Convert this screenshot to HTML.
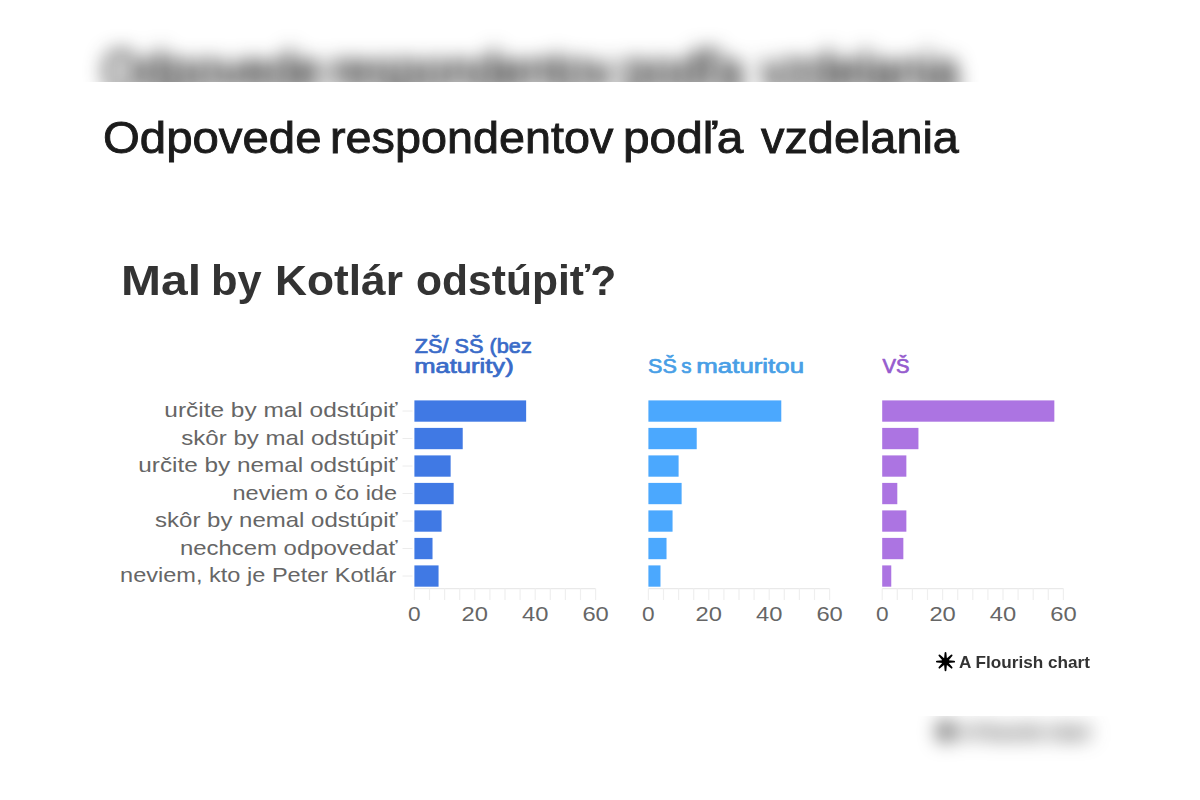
<!DOCTYPE html>
<html lang="sk">
<head>
<meta charset="utf-8">
<title>Odpovede respondentov podľa vzdelania</title>
<style>
  html, body { margin:0; padding:0; }
  body { width:1200px; height:800px; overflow:hidden; background:#fff; position:relative;
         font-family:"Liberation Sans", sans-serif; }
  .stage { position:absolute; left:0; top:0; width:1200px; height:800px; overflow:hidden; background:#fff; }
  /* blurred, vertically stretched copy of the card used as backdrop */
  .backdrop { position:absolute; left:0; top:0; width:1200px; height:800px; filter:blur(9.5px); }
  .stretch { position:absolute; left:0; top:0; width:1200px; height:634px;
             transform-origin:0 0; transform:scaleY(1.2618); }
  .backdrop .page-title { -webkit-text-stroke:1.2px #1b1b1b; }
  .card { position:absolute; left:0; top:82px; width:1200px; height:634px; background:#fff; overflow:hidden; }
  .inner { position:absolute; left:0; top:-82px; width:1200px; height:800px; }
  .page-title { position:absolute; left:0; top:112.1px; width:1200px; height:52px; margin:0; white-space:nowrap;
                font-size:43.6px; line-height:52px; font-weight:400; color:#1b1b1b;
                -webkit-text-stroke:0.85px #1b1b1b; }
  .page-title span, .chart-title span { position:absolute; top:0; transform-origin:0 0; }
  .chart-title { position:absolute; left:0; top:256.9px; width:1200px; height:48px; margin:0; white-space:nowrap;
                 font-size:41.8px; line-height:48px; font-weight:700; color:#333; }
  .chart { position:absolute; left:0; top:0; font-family:"Liberation Sans", sans-serif; }
  .credit { position:absolute; left:935px; top:651px; height:22px; white-space:nowrap; color:#333;
            font-size:16.5px; line-height:22px; font-weight:700; }
  .credit .fl-icon { position:absolute; left:0; top:1px; }
  .credit span { position:absolute; left:24px; top:0; transform-origin:0 0; transform:scaleX(1.04); }
</style>
</head>
<body>
<div class="stage">
  <div class="backdrop" aria-hidden="true">
    <div class="stretch">
      <div class="inner">
        <div class="page-title"><span style="left:102.74px;transform:scaleX(1.0860)">Odpovede</span> <span style="left:330.35px;transform:scaleX(1.0723)">respondentov</span> <span style="left:623.37px;transform:scaleX(1.0979)">podľa</span> <span style="left:761.21px;transform:scaleX(1.0743)">vzdelania</span></div>
        <div class="credit"><svg class="fl-icon" width="20" height="20" viewBox="-10.5 -9.6 20 20"><g fill="#000"><path transform="rotate(0)" d="M-1.45,-2.6 L-0.9,-8.65 A0.9,0.9 0 0 1 0.9,-8.65 L1.45,-2.6 Z"/><path transform="rotate(45)" d="M-1.45,-2.6 L-0.9,-8.65 A0.9,0.9 0 0 1 0.9,-8.65 L1.45,-2.6 Z"/><path transform="rotate(90)" d="M-1.45,-2.6 L-0.9,-8.65 A0.9,0.9 0 0 1 0.9,-8.65 L1.45,-2.6 Z"/><path transform="rotate(135)" d="M-1.45,-2.6 L-0.9,-8.65 A0.9,0.9 0 0 1 0.9,-8.65 L1.45,-2.6 Z"/><path transform="rotate(180)" d="M-1.45,-2.6 L-0.9,-8.65 A0.9,0.9 0 0 1 0.9,-8.65 L1.45,-2.6 Z"/><path transform="rotate(225)" d="M-1.45,-2.6 L-0.9,-8.65 A0.9,0.9 0 0 1 0.9,-8.65 L1.45,-2.6 Z"/><path transform="rotate(270)" d="M-1.45,-2.6 L-0.9,-8.65 A0.9,0.9 0 0 1 0.9,-8.65 L1.45,-2.6 Z"/><path transform="rotate(315)" d="M-1.45,-2.6 L-0.9,-8.65 A0.9,0.9 0 0 1 0.9,-8.65 L1.45,-2.6 Z"/><circle r="3.7"/></g></svg><span>A Flourish chart</span></div>
      </div>
    </div>
  </div>
  <div class="card">
    <div class="inner">
      <h1 class="page-title"><span style="left:102.74px;transform:scaleX(1.0860)">Odpovede</span> <span style="left:330.35px;transform:scaleX(1.0723)">respondentov</span> <span style="left:623.37px;transform:scaleX(1.0979)">podľa</span> <span style="left:761.21px;transform:scaleX(1.0743)">vzdelania</span></h1>
      <h2 class="chart-title"><span style="left:120.52px;transform:scaleX(1.1485)">Mal</span> <span style="left:210.87px;transform:scaleX(1.0403)">by</span> <span style="left:275.07px;transform:scaleX(1.0595)">Kotlár</span> <span style="left:415.81px;transform:scaleX(1.0190)">odstúpiť?</span></h2>
<svg class="chart" width="1200" height="800" viewBox="0 0 1200 800">
<g class="ylabels" font-size="21" fill="#666">
<text x="164.30" y="417.00" textLength="233.20" lengthAdjust="spacingAndGlyphs">určite by mal odstúpiť</text>
<text x="181.30" y="444.50" textLength="216.20" lengthAdjust="spacingAndGlyphs">skôr by mal odstúpiť</text>
<text x="138.30" y="472.00" textLength="259.20" lengthAdjust="spacingAndGlyphs">určite by nemal odstúpiť</text>
<text x="232.55" y="499.50" textLength="164.45" lengthAdjust="spacingAndGlyphs">neviem o čo ide</text>
<text x="155.05" y="527.00" textLength="242.45" lengthAdjust="spacingAndGlyphs">skôr by nemal odstúpiť</text>
<text x="180.05" y="554.50" textLength="217.45" lengthAdjust="spacingAndGlyphs">nechcem odpovedať</text>
<text x="120.05" y="582.00" textLength="276.20" lengthAdjust="spacingAndGlyphs">neviem, kto je Peter Kotlár</text>
</g>
<g class="yticks" stroke="#ececec" stroke-width="1">
<line x1="402.5" x2="412.5" y1="411.00" y2="411.00"/>
<line x1="402.5" x2="412.5" y1="438.50" y2="438.50"/>
<line x1="402.5" x2="412.5" y1="466.00" y2="466.00"/>
<line x1="402.5" x2="412.5" y1="493.50" y2="493.50"/>
<line x1="402.5" x2="412.5" y1="521.00" y2="521.00"/>
<line x1="402.5" x2="412.5" y1="548.50" y2="548.50"/>
<line x1="402.5" x2="412.5" y1="576.00" y2="576.00"/>
</g>
<g class="facet">
<line x1="414.4" x2="595.6" y1="588.6" y2="588.6" stroke="#e9e9e9" stroke-width="1.2"/>
<line x1="414.40" x2="414.40" y1="588.6" y2="600" stroke="#efefef" stroke-width="1.2"/>
<line x1="429.50" x2="429.50" y1="588.6" y2="600" stroke="#efefef" stroke-width="1.2"/>
<line x1="444.60" x2="444.60" y1="588.6" y2="600" stroke="#efefef" stroke-width="1.2"/>
<line x1="459.70" x2="459.70" y1="588.6" y2="600" stroke="#efefef" stroke-width="1.2"/>
<line x1="474.80" x2="474.80" y1="588.6" y2="600" stroke="#efefef" stroke-width="1.2"/>
<line x1="489.90" x2="489.90" y1="588.6" y2="600" stroke="#efefef" stroke-width="1.2"/>
<line x1="505.00" x2="505.00" y1="588.6" y2="600" stroke="#efefef" stroke-width="1.2"/>
<line x1="520.10" x2="520.10" y1="588.6" y2="600" stroke="#efefef" stroke-width="1.2"/>
<line x1="535.20" x2="535.20" y1="588.6" y2="600" stroke="#efefef" stroke-width="1.2"/>
<line x1="550.30" x2="550.30" y1="588.6" y2="600" stroke="#efefef" stroke-width="1.2"/>
<line x1="565.40" x2="565.40" y1="588.6" y2="600" stroke="#efefef" stroke-width="1.2"/>
<line x1="580.50" x2="580.50" y1="588.6" y2="600" stroke="#efefef" stroke-width="1.2"/>
<line x1="595.60" x2="595.60" y1="588.6" y2="600" stroke="#efefef" stroke-width="1.2"/>
<rect x="414.4" y="400.40" width="111.74" height="21.3" fill="#4079e4"/>
<rect x="414.4" y="427.90" width="48.32" height="21.3" fill="#4079e4"/>
<rect x="414.4" y="455.40" width="36.24" height="21.3" fill="#4079e4"/>
<rect x="414.4" y="482.90" width="39.26" height="21.3" fill="#4079e4"/>
<rect x="414.4" y="510.40" width="27.18" height="21.3" fill="#4079e4"/>
<rect x="414.4" y="537.90" width="18.12" height="21.3" fill="#4079e4"/>
<rect x="414.4" y="565.40" width="24.16" height="21.3" fill="#4079e4"/>
<text class="xt" x="408.10" y="621" font-size="21" fill="#666" textLength="12.6" lengthAdjust="spacingAndGlyphs">0</text>
<text class="xt" x="461.60" y="621" font-size="21" fill="#666" textLength="26.4" lengthAdjust="spacingAndGlyphs">20</text>
<text class="xt" x="522.00" y="621" font-size="21" fill="#666" textLength="26.4" lengthAdjust="spacingAndGlyphs">40</text>
<text class="xt" x="582.40" y="621" font-size="21" fill="#666" textLength="26.4" lengthAdjust="spacingAndGlyphs">60</text>
</g>
<g class="facet">
<line x1="648.4" x2="829.6" y1="588.6" y2="588.6" stroke="#e9e9e9" stroke-width="1.2"/>
<line x1="648.40" x2="648.40" y1="588.6" y2="600" stroke="#efefef" stroke-width="1.2"/>
<line x1="663.50" x2="663.50" y1="588.6" y2="600" stroke="#efefef" stroke-width="1.2"/>
<line x1="678.60" x2="678.60" y1="588.6" y2="600" stroke="#efefef" stroke-width="1.2"/>
<line x1="693.70" x2="693.70" y1="588.6" y2="600" stroke="#efefef" stroke-width="1.2"/>
<line x1="708.80" x2="708.80" y1="588.6" y2="600" stroke="#efefef" stroke-width="1.2"/>
<line x1="723.90" x2="723.90" y1="588.6" y2="600" stroke="#efefef" stroke-width="1.2"/>
<line x1="739.00" x2="739.00" y1="588.6" y2="600" stroke="#efefef" stroke-width="1.2"/>
<line x1="754.10" x2="754.10" y1="588.6" y2="600" stroke="#efefef" stroke-width="1.2"/>
<line x1="769.20" x2="769.20" y1="588.6" y2="600" stroke="#efefef" stroke-width="1.2"/>
<line x1="784.30" x2="784.30" y1="588.6" y2="600" stroke="#efefef" stroke-width="1.2"/>
<line x1="799.40" x2="799.40" y1="588.6" y2="600" stroke="#efefef" stroke-width="1.2"/>
<line x1="814.50" x2="814.50" y1="588.6" y2="600" stroke="#efefef" stroke-width="1.2"/>
<line x1="829.60" x2="829.60" y1="588.6" y2="600" stroke="#efefef" stroke-width="1.2"/>
<rect x="648.4" y="400.40" width="132.88" height="21.3" fill="#4ba8fe"/>
<rect x="648.4" y="427.90" width="48.32" height="21.3" fill="#4ba8fe"/>
<rect x="648.4" y="455.40" width="30.20" height="21.3" fill="#4ba8fe"/>
<rect x="648.4" y="482.90" width="33.22" height="21.3" fill="#4ba8fe"/>
<rect x="648.4" y="510.40" width="24.16" height="21.3" fill="#4ba8fe"/>
<rect x="648.4" y="537.90" width="18.12" height="21.3" fill="#4ba8fe"/>
<rect x="648.4" y="565.40" width="12.08" height="21.3" fill="#4ba8fe"/>
<text class="xt" x="642.10" y="621" font-size="21" fill="#666" textLength="12.6" lengthAdjust="spacingAndGlyphs">0</text>
<text class="xt" x="695.60" y="621" font-size="21" fill="#666" textLength="26.4" lengthAdjust="spacingAndGlyphs">20</text>
<text class="xt" x="756.00" y="621" font-size="21" fill="#666" textLength="26.4" lengthAdjust="spacingAndGlyphs">40</text>
<text class="xt" x="816.40" y="621" font-size="21" fill="#666" textLength="26.4" lengthAdjust="spacingAndGlyphs">60</text>
</g>
<g class="facet">
<line x1="882.2" x2="1063.4" y1="588.6" y2="588.6" stroke="#e9e9e9" stroke-width="1.2"/>
<line x1="882.20" x2="882.20" y1="588.6" y2="600" stroke="#efefef" stroke-width="1.2"/>
<line x1="897.30" x2="897.30" y1="588.6" y2="600" stroke="#efefef" stroke-width="1.2"/>
<line x1="912.40" x2="912.40" y1="588.6" y2="600" stroke="#efefef" stroke-width="1.2"/>
<line x1="927.50" x2="927.50" y1="588.6" y2="600" stroke="#efefef" stroke-width="1.2"/>
<line x1="942.60" x2="942.60" y1="588.6" y2="600" stroke="#efefef" stroke-width="1.2"/>
<line x1="957.70" x2="957.70" y1="588.6" y2="600" stroke="#efefef" stroke-width="1.2"/>
<line x1="972.80" x2="972.80" y1="588.6" y2="600" stroke="#efefef" stroke-width="1.2"/>
<line x1="987.90" x2="987.90" y1="588.6" y2="600" stroke="#efefef" stroke-width="1.2"/>
<line x1="1003.00" x2="1003.00" y1="588.6" y2="600" stroke="#efefef" stroke-width="1.2"/>
<line x1="1018.10" x2="1018.10" y1="588.6" y2="600" stroke="#efefef" stroke-width="1.2"/>
<line x1="1033.20" x2="1033.20" y1="588.6" y2="600" stroke="#efefef" stroke-width="1.2"/>
<line x1="1048.30" x2="1048.30" y1="588.6" y2="600" stroke="#efefef" stroke-width="1.2"/>
<line x1="1063.40" x2="1063.40" y1="588.6" y2="600" stroke="#efefef" stroke-width="1.2"/>
<rect x="882.2" y="400.40" width="172.14" height="21.3" fill="#ac74e2"/>
<rect x="882.2" y="427.90" width="36.24" height="21.3" fill="#ac74e2"/>
<rect x="882.2" y="455.40" width="24.16" height="21.3" fill="#ac74e2"/>
<rect x="882.2" y="482.90" width="15.10" height="21.3" fill="#ac74e2"/>
<rect x="882.2" y="510.40" width="24.16" height="21.3" fill="#ac74e2"/>
<rect x="882.2" y="537.90" width="21.14" height="21.3" fill="#ac74e2"/>
<rect x="882.2" y="565.40" width="9.06" height="21.3" fill="#ac74e2"/>
<text class="xt" x="875.90" y="621" font-size="21" fill="#666" textLength="12.6" lengthAdjust="spacingAndGlyphs">0</text>
<text class="xt" x="929.40" y="621" font-size="21" fill="#666" textLength="26.4" lengthAdjust="spacingAndGlyphs">20</text>
<text class="xt" x="989.80" y="621" font-size="21" fill="#666" textLength="26.4" lengthAdjust="spacingAndGlyphs">40</text>
<text class="xt" x="1050.20" y="621" font-size="21" fill="#666" textLength="26.4" lengthAdjust="spacingAndGlyphs">60</text>
</g>
<g class="headers" font-size="19.5" font-weight="400" stroke-width="0.7" stroke-linejoin="round">
<text x="414.8" y="352.9" fill="#3a6bc8" stroke="#3a6bc8" textLength="117" lengthAdjust="spacingAndGlyphs">ZŠ/ SŠ (bez</text>
<text x="414.2" y="372.8" fill="#3a6bc8" stroke="#3a6bc8" textLength="99.5" lengthAdjust="spacingAndGlyphs">maturity)</text>
<text y="372.8" fill="#489fe6" stroke="#489fe6"><tspan x="648.03" textLength="28.77" lengthAdjust="spacingAndGlyphs">SŠ</tspan> <tspan x="681.28" textLength="10.24" lengthAdjust="spacingAndGlyphs">s</tspan> <tspan x="696.34" textLength="107.71" lengthAdjust="spacingAndGlyphs">maturitou</tspan></text>
<text x="882.5" y="372.8" fill="#965cce" stroke="#965cce" textLength="27" lengthAdjust="spacingAndGlyphs">VŠ</text>
</g>
</svg>
      <div class="credit"><svg class="fl-icon" width="20" height="20" viewBox="-10.5 -9.6 20 20"><g fill="#000"><path transform="rotate(0)" d="M-1.45,-2.6 L-0.9,-8.65 A0.9,0.9 0 0 1 0.9,-8.65 L1.45,-2.6 Z"/><path transform="rotate(45)" d="M-1.45,-2.6 L-0.9,-8.65 A0.9,0.9 0 0 1 0.9,-8.65 L1.45,-2.6 Z"/><path transform="rotate(90)" d="M-1.45,-2.6 L-0.9,-8.65 A0.9,0.9 0 0 1 0.9,-8.65 L1.45,-2.6 Z"/><path transform="rotate(135)" d="M-1.45,-2.6 L-0.9,-8.65 A0.9,0.9 0 0 1 0.9,-8.65 L1.45,-2.6 Z"/><path transform="rotate(180)" d="M-1.45,-2.6 L-0.9,-8.65 A0.9,0.9 0 0 1 0.9,-8.65 L1.45,-2.6 Z"/><path transform="rotate(225)" d="M-1.45,-2.6 L-0.9,-8.65 A0.9,0.9 0 0 1 0.9,-8.65 L1.45,-2.6 Z"/><path transform="rotate(270)" d="M-1.45,-2.6 L-0.9,-8.65 A0.9,0.9 0 0 1 0.9,-8.65 L1.45,-2.6 Z"/><path transform="rotate(315)" d="M-1.45,-2.6 L-0.9,-8.65 A0.9,0.9 0 0 1 0.9,-8.65 L1.45,-2.6 Z"/><circle r="3.7"/></g></svg><span>A Flourish chart</span></div>
    </div>
  </div>
</div>
</body>
</html>
